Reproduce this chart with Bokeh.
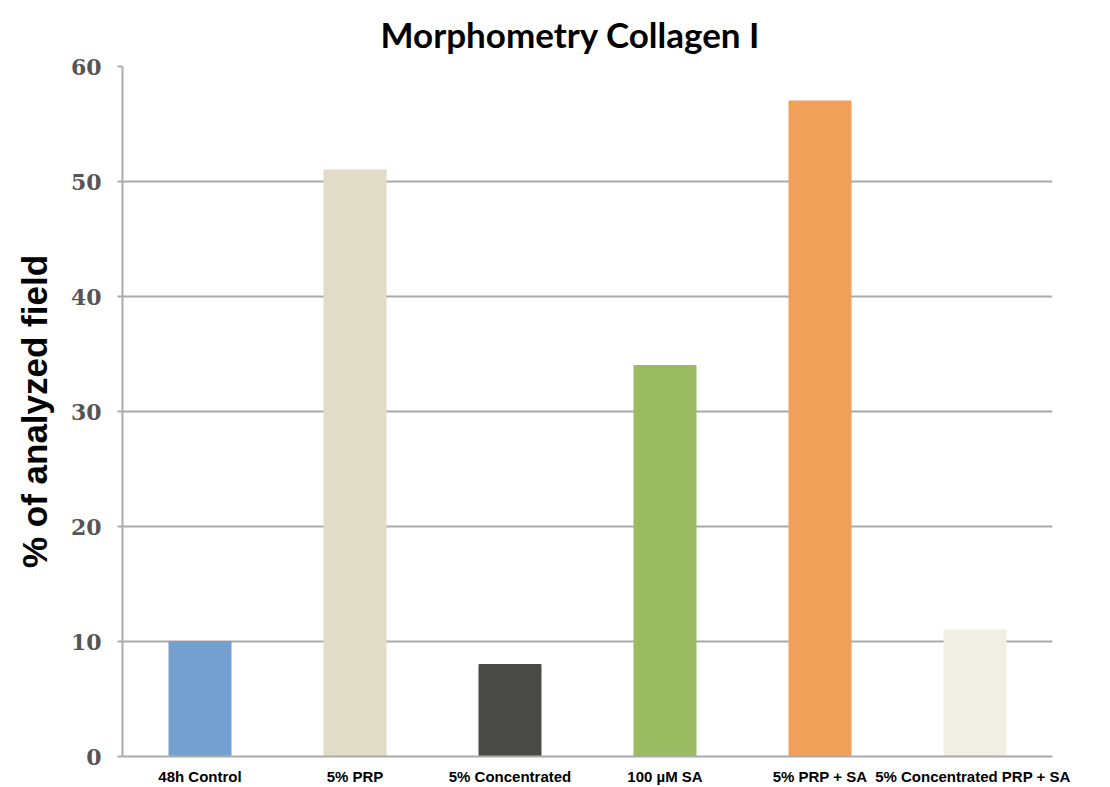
from bokeh.plotting import figure
from bokeh.models import ColumnDataSource, FactorRange, Range1d, FixedTicker
from bokeh.embed import file_html
from bokeh.resources import INLINE

categories = ["48h Control", "5% PRP", "5% Concentrated", "100 µM SA",
              "5% PRP + SA", "5% Concentrated  PRP + SA"]
values = [10, 51, 8, 34, 57, 11]
colors = ["#74a0cf", "#e0dcc8", "#4a4a46", "#9bbb63", "#f0a058", "#f1eee3"]
y_ticks = [0, 10, 20, 30, 40, 50, 60]

source = ColumnDataSource(dict(cat=categories, val=values, color=colors))

p = figure(width=1110, height=787, output_backend="svg", toolbar_location=None,
           x_range=FactorRange(*categories, range_padding=0),
           y_range=Range1d(0, 60),
           min_border_left=122, min_border_right=58, min_border_top=66,
           min_border_bottom=31, title="Morphometry Collagen I")

p.vbar(x="cat", top="val", width=0.4, color="color", source=source)

p.outline_line_color = None
p.background_fill_color = "white"
p.xgrid.grid_line_color = None
p.ygrid.grid_line_color = "#aaaaaa"
p.ygrid.grid_line_width = 2
p.ygrid.ticker = FixedTicker(ticks=y_ticks)

p.title.text_font = "Lato"
p.title.text_font_size = "35px"
p.title.text_font_style = "bold"
p.title.text_color = "black"
p.title.align = "left"
p.title.offset = 258
p.title.standoff = 20
p.title.text_line_height = 0.8
p.title.vertical_align = "top"

ya = p.yaxis[0]
ya.ticker = FixedTicker(ticks=y_ticks)
ya.axis_line_color = "#aaaaaa"
ya.axis_line_width = 2
ya.major_tick_line_color = "#aaaaaa"
ya.major_tick_line_width = 2
ya.major_tick_out = 5
ya.major_tick_in = 0
ya.minor_tick_line_color = None
ya.major_label_text_font = "DejaVu Serif"
ya.major_label_text_font_size = "22px"
ya.major_label_text_font_style = "bold"
ya.major_label_text_color = "#555555"
ya.major_label_standoff = 16
ya.axis_label = "% of analyzed field"
ya.axis_label_text_font = "Liberation Sans"
ya.axis_label_text_font_size = "35px"
ya.axis_label_text_font_style = "bold"
ya.axis_label_text_color = "black"
ya.axis_label_standoff = 14

xa = p.xaxis[0]
xa.axis_line_color = "#aaaaaa"
xa.axis_line_width = 2
xa.major_tick_line_color = None
xa.minor_tick_line_color = None
xa.major_label_text_font = "Liberation Sans"
xa.major_label_text_font_size = "15px"
xa.major_label_text_font_style = "bold"
xa.major_label_text_color = "black"
xa.major_label_standoff = 5

open("out.html", "w").write(file_html(p, INLINE))
